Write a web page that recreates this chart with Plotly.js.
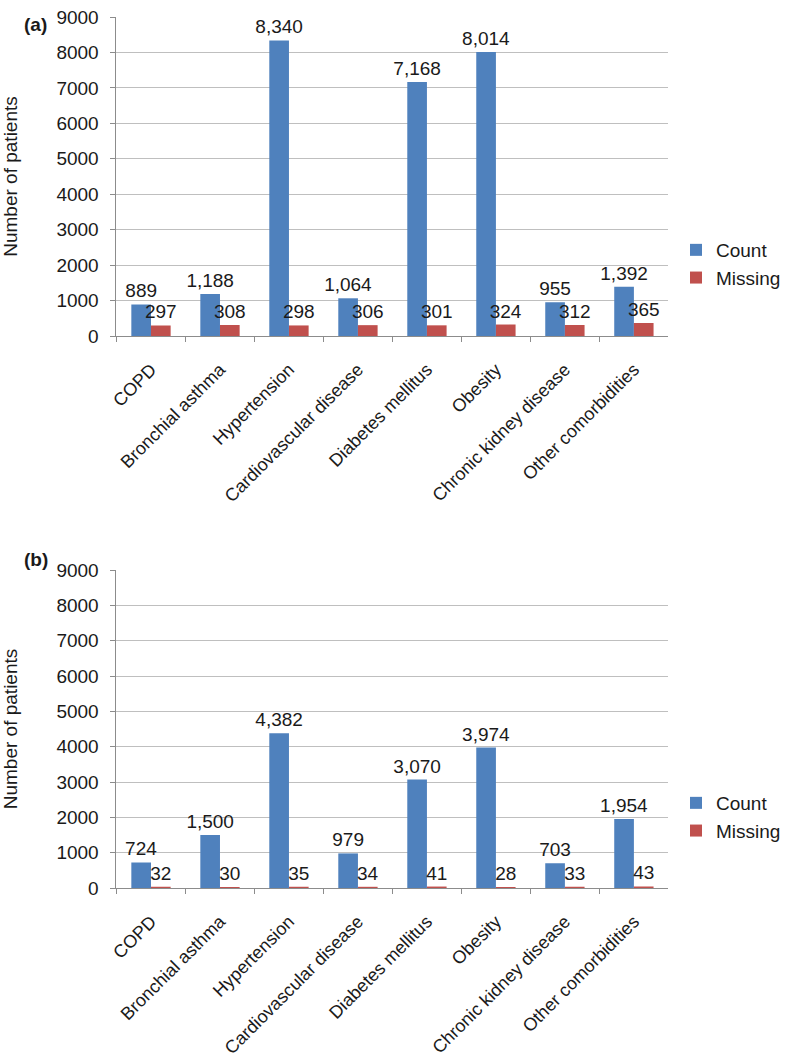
<!DOCTYPE html>
<html>
<head>
<meta charset="utf-8">
<script src="https://cdn.plot.ly/plotly-3.0.1.min.js"></script>
<style>
	html, body {margin: 0; padding: 0; background: #fff;}
	#chart {width: 786px; height: 1062px;}
</style>
</head>
<body>
<div id="chart"></div>
<script>
const categories = ['COPD', 'Bronchial asthma', 'Hypertension', 'Cardiovascular disease',
	'Diabetes mellitus', 'Obesity', 'Chronic kidney disease', 'Other comorbidities'];

// panel (a)
const countA = [889, 1188, 8340, 1064, 7168, 8014, 955, 1392];
const missingA = [297, 308, 298, 306, 301, 324, 312, 365];

// panel (b)
const countB = [724, 1500, 4382, 979, 3070, 3974, 703, 1954];
const missingB = [32, 30, 35, 34, 41, 28, 33, 43];

const yTicks = [0, 1000, 2000, 3000, 4000, 5000, 6000, 7000, 8000, 9000];

const FONT = 'Arial, "Liberation Sans", sans-serif';
const BLUE = '#4F81BD';
const RED = '#C0504D';

function barTrace(values, name, color, axis, legend) {
	return {
		x: categories,
		y: values,
		type: 'bar',
		name: name,
		xaxis: 'x' + axis,
		yaxis: 'y' + axis,
		legend: legend,
		marker: {color: color, line: {width: 0}},
		texttemplate: '%{y:,}',
		textposition: 'outside',
		constraintext: 'none',
		cliponaxis: false,
		textfont: {family: FONT, size: 19, color: '#1a1a1a'},
		hoverinfo: 'x+y'
	};
}

function xAxis(anchor) {
	return {
		domain: [118 / 786, 677 / 786],
		anchor: anchor,
		showgrid: false,
		showline: true,
		linecolor: '#8c8c8c',
		linewidth: 1,
		ticks: 'outside',
		tickson: 'boundaries',
		ticklen: 5,
		tickcolor: '#8c8c8c',
		tickangle: -45,
		ticklabelstandoff: 15,
		tickfont: {family: FONT, size: 18, color: '#1a1a1a'},
		fixedrange: true
	};
}

function yAxis(domain, anchor) {
	return {
		domain: domain,
		anchor: anchor,
		range: [0, 9000],
		tickvals: yTicks,
		tickformat: 'd',
		showgrid: true,
		gridcolor: '#bfbfbf',
		gridwidth: 1,
		showline: true,
		linecolor: '#8c8c8c',
		ticks: 'outside',
		ticklen: 5,
		tickcolor: '#8c8c8c',
		ticklabelstandoff: 8,
		tickfont: {family: FONT, size: 19, color: '#1a1a1a'},
		title: {text: 'Number of patients', font: {family: FONT, size: 19, color: '#1a1a1a'}, standoff: 38},
		zeroline: false,
		fixedrange: true
	};
}

const H = 1062;
const data = [
	barTrace(countA, 'Count', BLUE, '', 'legend'),
	barTrace(missingA, 'Missing', RED, '', 'legend'),
	barTrace(countB, 'Count', BLUE, '2', 'legend2'),
	barTrace(missingB, 'Missing', RED, '2', 'legend2')
];

const legendStyle = {
	x: 685 / 786,
	xanchor: 'left',
	yanchor: 'middle',
	bgcolor: 'rgba(0,0,0,0)',
	font: {family: FONT, size: 19, color: '#1a1a1a'},
	traceorder: 'normal'
};

const layout = {
	width: 786,
	height: H,
	margin: {l: 0, r: 0, t: 0, b: 0},
	paper_bgcolor: '#fff',
	plot_bgcolor: '#fff',
	barmode: 'group',
	bargap: 0.43,
	bargroupgap: 0,
	showlegend: true,
	xaxis: xAxis('y'),
	yaxis: yAxis([(H - 336) / H, (H - 17) / H], 'x'),
	xaxis2: xAxis('y2'),
	yaxis2: yAxis([(H - 888) / H, (H - 570) / H], 'x2'),
	legend: Object.assign({y: (H - 264) / H}, legendStyle),
	legend2: Object.assign({y: (H - 817) / H}, legendStyle),
	annotations: [
		{text: '<b>(a)</b>', x: 22 / 786, y: (H - 12) / H, xref: 'paper', yref: 'paper',
			showarrow: false, font: {family: FONT, size: 19, color: '#1a1a1a'}},
		{text: '<b>(b)</b>', x: 22 / 786, y: (H - 559) / H, xref: 'paper', yref: 'paper',
			showarrow: false, font: {family: FONT, size: 19, color: '#1a1a1a'}}
	]
};

Plotly.newPlot('chart', data, layout, {staticPlot: true});
</script>
</body>
</html>
